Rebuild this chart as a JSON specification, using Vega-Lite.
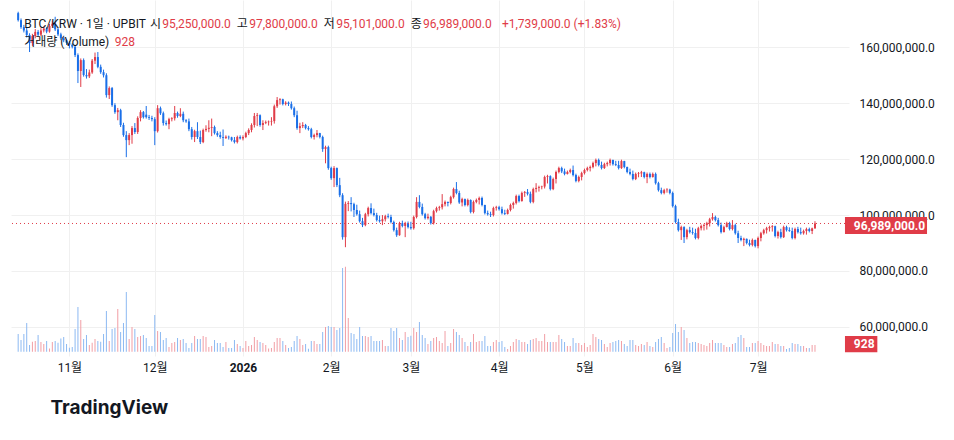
{
  "$schema": "https://vega.github.io/schema/vega-lite/v6.json",
  "description": "BTC/KRW daily candles on UPBIT with volume",
  "width": 838,
  "height": 356,
  "padding": {"left": 10, "top": 0, "right": 0, "bottom": 0},
  "background": "#ffffff",
  "config": {
    "font": "Roboto, 'Noto Sans CJK KR', sans-serif",
    "view": {"stroke": null}
  },
  "title": {
    "text": "TradingView",
    "orient": "bottom",
    "anchor": "start",
    "font": "Inter",
    "fontSize": 19,
    "fontWeight": "bold",
    "color": "#131722",
    "dx": 40,
    "offset": 26
  },
  "datasets": {
    "btc": [
      {"d":"2025-10-14","o":172.2,"h":172.7,"l":169.2,"c":169.7,"v":2480},
      {"d":"2025-10-15","o":169.7,"h":170.3,"l":166.6,"c":167.2,"v":1640},
      {"d":"2025-10-16","o":167.2,"h":168.0,"l":165.3,"c":166.0,"v":2480},
      {"d":"2025-10-17","o":166.0,"h":167.0,"l":163.5,"c":164.4,"v":4020},
      {"d":"2025-10-18","o":164.4,"h":165.0,"l":158.3,"c":161.5,"v":940},
      {"d":"2025-10-19","o":161.5,"h":164.8,"l":160.5,"c":164.0,"v":1400},
      {"d":"2025-10-20","o":164.0,"h":166.5,"l":163.2,"c":165.5,"v":1500},
      {"d":"2025-10-21","o":165.5,"h":166.2,"l":163.8,"c":164.5,"v":2340},
      {"d":"2025-10-22","o":164.5,"h":166.8,"l":164.0,"c":166.0,"v":1360},
      {"d":"2025-10-23","o":166.0,"h":167.5,"l":165.3,"c":166.7,"v":1080},
      {"d":"2025-10-24","o":166.7,"h":167.2,"l":165.0,"c":165.6,"v":1500},
      {"d":"2025-10-25","o":165.6,"h":168.3,"l":165.2,"c":167.6,"v":460},
      {"d":"2025-10-26","o":167.6,"h":169.5,"l":167.0,"c":168.4,"v":1360},
      {"d":"2025-10-27","o":168.4,"h":170.9,"l":165.8,"c":166.4,"v":1500},
      {"d":"2025-10-28","o":166.4,"h":167.0,"l":164.0,"c":164.6,"v":1260},
      {"d":"2025-10-29","o":164.6,"h":165.2,"l":162.5,"c":163.2,"v":1860},
      {"d":"2025-10-30","o":163.2,"h":163.8,"l":161.8,"c":162.5,"v":2060},
      {"d":"2025-10-31","o":162.5,"h":163.0,"l":160.8,"c":161.6,"v":1080},
      {"d":"2025-11-01","o":161.6,"h":162.2,"l":159.6,"c":160.9,"v":560},
      {"d":"2025-11-02","o":160.9,"h":161.4,"l":159.6,"c":160.2,"v":660},
      {"d":"2025-11-03","o":160.2,"h":160.8,"l":156.5,"c":157.2,"v":3180},
      {"d":"2025-11-04","o":157.2,"h":157.8,"l":147.2,"c":151.5,"v":6260},
      {"d":"2025-11-05","o":151.5,"h":156.0,"l":145.8,"c":155.4,"v":4440},
      {"d":"2025-11-06","o":155.4,"h":156.0,"l":149.5,"c":150.1,"v":1780},
      {"d":"2025-11-07","o":150.1,"h":152.2,"l":148.8,"c":149.6,"v":2340},
      {"d":"2025-11-08","o":149.6,"h":152.0,"l":149.0,"c":151.0,"v":940},
      {"d":"2025-11-09","o":151.0,"h":155.8,"l":150.5,"c":155.2,"v":1260},
      {"d":"2025-11-10","o":155.2,"h":158.1,"l":154.0,"c":156.5,"v":1780},
      {"d":"2025-11-11","o":156.5,"h":158.3,"l":152.5,"c":153.0,"v":1500},
      {"d":"2025-11-12","o":153.0,"h":153.8,"l":150.5,"c":151.1,"v":1400},
      {"d":"2025-11-13","o":151.1,"h":152.0,"l":149.2,"c":150.0,"v":2480},
      {"d":"2025-11-14","o":150.0,"h":150.7,"l":142.0,"c":142.9,"v":5700},
      {"d":"2025-11-15","o":142.9,"h":146.0,"l":141.5,"c":145.4,"v":1500},
      {"d":"2025-11-16","o":145.4,"h":145.8,"l":138.7,"c":139.3,"v":3180},
      {"d":"2025-11-17","o":139.3,"h":140.0,"l":136.2,"c":136.8,"v":3320},
      {"d":"2025-11-18","o":136.8,"h":138.3,"l":133.9,"c":137.5,"v":5980},
      {"d":"2025-11-19","o":137.5,"h":138.0,"l":131.5,"c":132.2,"v":2760},
      {"d":"2025-11-20","o":132.2,"h":133.0,"l":128.0,"c":128.6,"v":4020},
      {"d":"2025-11-21","o":128.6,"h":130.0,"l":120.7,"c":126.8,"v":8360},
      {"d":"2025-11-22","o":126.8,"h":129.3,"l":125.0,"c":128.6,"v":1780},
      {"d":"2025-11-23","o":128.6,"h":131.8,"l":125.5,"c":131.1,"v":3460},
      {"d":"2025-11-24","o":131.1,"h":132.9,"l":129.0,"c":129.7,"v":3180},
      {"d":"2025-11-25","o":129.7,"h":135.3,"l":129.0,"c":134.7,"v":2060},
      {"d":"2025-11-26","o":134.7,"h":137.5,"l":133.5,"c":136.8,"v":2200},
      {"d":"2025-11-27","o":136.8,"h":137.2,"l":134.5,"c":135.0,"v":2340},
      {"d":"2025-11-28","o":135.9,"h":139.0,"l":134.5,"c":135.0,"v":1920},
      {"d":"2025-11-29","o":135.0,"h":135.8,"l":134.0,"c":134.7,"v":800},
      {"d":"2025-11-30","o":134.7,"h":135.5,"l":133.5,"c":134.3,"v":800},
      {"d":"2025-12-01","o":134.3,"h":135.0,"l":125.0,"c":130.0,"v":5140},
      {"d":"2025-12-02","o":130.0,"h":139.3,"l":129.5,"c":138.2,"v":2900},
      {"d":"2025-12-03","o":138.2,"h":138.8,"l":135.8,"c":136.4,"v":2760},
      {"d":"2025-12-04","o":136.4,"h":137.0,"l":132.0,"c":132.9,"v":1640},
      {"d":"2025-12-05","o":132.9,"h":133.8,"l":132.0,"c":132.5,"v":1920},
      {"d":"2025-12-06","o":132.5,"h":134.8,"l":130.7,"c":134.3,"v":660},
      {"d":"2025-12-07","o":134.3,"h":135.0,"l":133.5,"c":134.6,"v":1220},
      {"d":"2025-12-08","o":134.6,"h":139.0,"l":133.8,"c":136.5,"v":1360},
      {"d":"2025-12-09","o":136.5,"h":137.0,"l":134.8,"c":135.4,"v":1920},
      {"d":"2025-12-10","o":135.4,"h":138.2,"l":135.0,"c":136.2,"v":1640},
      {"d":"2025-12-11","o":136.2,"h":137.0,"l":133.2,"c":133.9,"v":1780},
      {"d":"2025-12-12","o":133.9,"h":134.3,"l":133.0,"c":133.5,"v":1220},
      {"d":"2025-12-13","o":133.5,"h":134.5,"l":130.0,"c":130.7,"v":520},
      {"d":"2025-12-14","o":130.7,"h":131.5,"l":127.0,"c":127.9,"v":1220},
      {"d":"2025-12-15","o":127.9,"h":130.5,"l":126.1,"c":130.0,"v":2200},
      {"d":"2025-12-16","o":130.0,"h":133.2,"l":127.2,"c":127.9,"v":1780},
      {"d":"2025-12-17","o":127.9,"h":130.2,"l":125.4,"c":126.1,"v":1780},
      {"d":"2025-12-18","o":126.1,"h":130.9,"l":125.7,"c":130.4,"v":2200},
      {"d":"2025-12-19","o":130.4,"h":132.1,"l":129.8,"c":130.8,"v":2060},
      {"d":"2025-12-20","o":130.8,"h":133.9,"l":129.6,"c":131.2,"v":660},
      {"d":"2025-12-21","o":131.2,"h":134.5,"l":128.2,"c":131.5,"v":800},
      {"d":"2025-12-22","o":131.5,"h":132.0,"l":128.8,"c":129.3,"v":1640},
      {"d":"2025-12-23","o":129.3,"h":130.0,"l":128.0,"c":128.6,"v":1220},
      {"d":"2025-12-24","o":128.6,"h":129.8,"l":127.3,"c":127.9,"v":1220},
      {"d":"2025-12-25","o":127.9,"h":130.6,"l":124.7,"c":127.6,"v":660},
      {"d":"2025-12-26","o":127.6,"h":128.5,"l":127.2,"c":128.0,"v":1360},
      {"d":"2025-12-27","o":128.0,"h":128.4,"l":127.0,"c":127.8,"v":520},
      {"d":"2025-12-28","o":127.8,"h":128.0,"l":126.3,"c":126.8,"v":520},
      {"d":"2025-12-29","o":126.8,"h":127.9,"l":125.6,"c":126.1,"v":1640},
      {"d":"2025-12-30","o":126.1,"h":128.4,"l":125.6,"c":127.9,"v":1080},
      {"d":"2025-12-31","o":127.9,"h":128.5,"l":127.0,"c":127.4,"v":800},
      {"d":"2026-01-01","o":127.4,"h":128.5,"l":126.7,"c":127.9,"v":520},
      {"d":"2026-01-02","o":127.9,"h":129.8,"l":127.5,"c":129.3,"v":1500},
      {"d":"2026-01-03","o":129.3,"h":131.0,"l":128.6,"c":130.4,"v":800},
      {"d":"2026-01-04","o":130.4,"h":132.8,"l":129.6,"c":132.2,"v":940},
      {"d":"2026-01-05","o":132.2,"h":136.5,"l":131.3,"c":135.4,"v":2060},
      {"d":"2026-01-06","o":135.4,"h":136.5,"l":131.8,"c":135.7,"v":1640},
      {"d":"2026-01-07","o":135.7,"h":136.0,"l":131.6,"c":132.2,"v":1360},
      {"d":"2026-01-08","o":132.2,"h":133.9,"l":130.4,"c":132.9,"v":1220},
      {"d":"2026-01-09","o":132.9,"h":133.8,"l":132.5,"c":133.2,"v":940},
      {"d":"2026-01-10","o":133.2,"h":133.8,"l":132.0,"c":133.4,"v":460},
      {"d":"2026-01-11","o":133.4,"h":135.0,"l":132.0,"c":133.6,"v":520},
      {"d":"2026-01-12","o":133.6,"h":139.5,"l":132.7,"c":138.9,"v":1360},
      {"d":"2026-01-13","o":138.9,"h":142.2,"l":138.3,"c":141.1,"v":1920},
      {"d":"2026-01-14","o":141.1,"h":141.8,"l":139.5,"c":141.4,"v":1920},
      {"d":"2026-01-15","o":141.4,"h":141.6,"l":139.2,"c":139.7,"v":1500},
      {"d":"2026-01-16","o":139.7,"h":140.7,"l":139.2,"c":140.2,"v":940},
      {"d":"2026-01-17","o":140.2,"h":140.6,"l":139.0,"c":139.7,"v":520},
      {"d":"2026-01-18","o":139.7,"h":140.6,"l":137.7,"c":138.2,"v":660},
      {"d":"2026-01-19","o":138.2,"h":138.8,"l":135.0,"c":135.7,"v":1500},
      {"d":"2026-01-20","o":135.7,"h":137.3,"l":130.5,"c":131.1,"v":2200},
      {"d":"2026-01-21","o":131.1,"h":133.0,"l":129.3,"c":131.8,"v":1780},
      {"d":"2026-01-22","o":131.8,"h":133.2,"l":131.1,"c":132.2,"v":940},
      {"d":"2026-01-23","o":132.2,"h":132.6,"l":130.6,"c":131.1,"v":1080},
      {"d":"2026-01-24","o":131.1,"h":131.8,"l":130.2,"c":130.7,"v":400},
      {"d":"2026-01-25","o":130.7,"h":131.2,"l":127.4,"c":127.9,"v":1500},
      {"d":"2026-01-26","o":127.9,"h":129.1,"l":127.0,"c":128.6,"v":1500},
      {"d":"2026-01-27","o":128.6,"h":130.4,"l":127.8,"c":129.3,"v":1080},
      {"d":"2026-01-28","o":129.3,"h":129.4,"l":127.4,"c":127.9,"v":1080},
      {"d":"2026-01-29","o":127.9,"h":128.4,"l":122.6,"c":123.6,"v":2760},
      {"d":"2026-01-30","o":123.6,"h":124.8,"l":118.5,"c":124.3,"v":3460},
      {"d":"2026-01-31","o":124.3,"h":124.8,"l":116.2,"c":116.8,"v":3600},
      {"d":"2026-02-01","o":116.8,"h":117.3,"l":112.6,"c":113.2,"v":3460},
      {"d":"2026-02-02","o":113.2,"h":117.5,"l":110.0,"c":116.8,"v":3460},
      {"d":"2026-02-03","o":116.8,"h":117.0,"l":110.0,"c":110.7,"v":3040},
      {"d":"2026-02-04","o":110.7,"h":113.3,"l":106.4,"c":107.1,"v":3320},
      {"d":"2026-02-05","o":107.1,"h":107.8,"l":91.2,"c":92.1,"v":11720},
      {"d":"2026-02-06","o":92.1,"h":104.8,"l":88.5,"c":104.0,"v":11900},
      {"d":"2026-02-07","o":104.0,"h":105.0,"l":101.4,"c":104.3,"v":4720},
      {"d":"2026-02-08","o":104.3,"h":106.4,"l":101.3,"c":103.9,"v":2620},
      {"d":"2026-02-09","o":103.9,"h":104.4,"l":99.3,"c":101.8,"v":2480},
      {"d":"2026-02-10","o":101.8,"h":103.7,"l":99.8,"c":100.3,"v":1780},
      {"d":"2026-02-11","o":100.3,"h":101.6,"l":97.3,"c":97.8,"v":3460},
      {"d":"2026-02-12","o":97.8,"h":99.0,"l":95.7,"c":96.4,"v":2200},
      {"d":"2026-02-13","o":96.4,"h":100.8,"l":96.0,"c":100.3,"v":2200},
      {"d":"2026-02-14","o":100.3,"h":103.0,"l":99.5,"c":102.5,"v":2060},
      {"d":"2026-02-15","o":102.5,"h":104.2,"l":100.2,"c":100.7,"v":2200},
      {"d":"2026-02-16","o":100.7,"h":102.3,"l":99.5,"c":100.0,"v":1500},
      {"d":"2026-02-17","o":100.0,"h":100.8,"l":97.7,"c":98.2,"v":1500},
      {"d":"2026-02-18","o":98.2,"h":99.8,"l":97.3,"c":97.8,"v":1500},
      {"d":"2026-02-19","o":97.8,"h":100.0,"l":96.4,"c":98.5,"v":1640},
      {"d":"2026-02-20","o":98.5,"h":100.1,"l":97.7,"c":99.6,"v":800},
      {"d":"2026-02-21","o":99.6,"h":100.5,"l":98.8,"c":99.3,"v":800},
      {"d":"2026-02-22","o":99.3,"h":100.1,"l":97.0,"c":97.5,"v":3320},
      {"d":"2026-02-23","o":97.5,"h":98.0,"l":94.1,"c":94.6,"v":2900},
      {"d":"2026-02-24","o":94.6,"h":95.5,"l":92.2,"c":92.8,"v":3320},
      {"d":"2026-02-25","o":92.8,"h":97.6,"l":92.6,"c":97.1,"v":1920},
      {"d":"2026-02-26","o":97.1,"h":98.0,"l":95.6,"c":96.1,"v":1640},
      {"d":"2026-02-27","o":96.1,"h":97.6,"l":92.1,"c":97.1,"v":2760},
      {"d":"2026-02-28","o":97.1,"h":97.7,"l":95.2,"c":95.7,"v":2060},
      {"d":"2026-03-01","o":95.7,"h":97.6,"l":94.8,"c":95.3,"v":2240},
      {"d":"2026-03-02","o":95.3,"h":99.8,"l":94.8,"c":99.3,"v":3320},
      {"d":"2026-03-03","o":99.3,"h":106.4,"l":98.8,"c":104.7,"v":2760},
      {"d":"2026-03-04","o":104.7,"h":107.1,"l":102.4,"c":102.9,"v":4160},
      {"d":"2026-03-05","o":102.9,"h":104.1,"l":99.8,"c":100.3,"v":2340},
      {"d":"2026-03-06","o":100.3,"h":100.8,"l":98.4,"c":98.9,"v":1920},
      {"d":"2026-03-07","o":98.9,"h":100.5,"l":98.4,"c":99.4,"v":1080},
      {"d":"2026-03-08","o":99.4,"h":99.6,"l":96.6,"c":97.1,"v":1500},
      {"d":"2026-03-09","o":97.1,"h":101.9,"l":96.6,"c":101.4,"v":1920},
      {"d":"2026-03-10","o":101.4,"h":103.0,"l":100.9,"c":102.5,"v":2060},
      {"d":"2026-03-11","o":102.5,"h":103.3,"l":101.6,"c":102.8,"v":1500},
      {"d":"2026-03-12","o":102.8,"h":107.5,"l":102.0,"c":103.9,"v":1220},
      {"d":"2026-03-13","o":103.9,"h":105.2,"l":103.1,"c":104.7,"v":2900},
      {"d":"2026-03-14","o":104.7,"h":104.8,"l":103.1,"c":104.3,"v":800},
      {"d":"2026-03-15","o":104.3,"h":106.9,"l":103.8,"c":106.4,"v":1220},
      {"d":"2026-03-16","o":106.4,"h":109.8,"l":105.9,"c":109.3,"v":3180},
      {"d":"2026-03-17","o":109.3,"h":111.8,"l":107.4,"c":107.9,"v":2760},
      {"d":"2026-03-18","o":107.9,"h":108.7,"l":104.0,"c":104.5,"v":2340},
      {"d":"2026-03-19","o":104.5,"h":106.2,"l":103.1,"c":105.7,"v":1920},
      {"d":"2026-03-20","o":105.7,"h":105.9,"l":103.1,"c":103.6,"v":1360},
      {"d":"2026-03-21","o":103.6,"h":105.9,"l":103.1,"c":105.4,"v":800},
      {"d":"2026-03-22","o":105.4,"h":105.6,"l":100.6,"c":101.1,"v":1360},
      {"d":"2026-03-23","o":101.1,"h":105.2,"l":100.6,"c":104.7,"v":2480},
      {"d":"2026-03-24","o":104.7,"h":105.9,"l":104.2,"c":105.4,"v":1360},
      {"d":"2026-03-25","o":105.4,"h":106.6,"l":103.8,"c":106.1,"v":1500},
      {"d":"2026-03-26","o":106.1,"h":106.6,"l":103.1,"c":103.6,"v":1500},
      {"d":"2026-03-27","o":103.6,"h":103.7,"l":100.2,"c":100.7,"v":2200},
      {"d":"2026-03-28","o":100.7,"h":101.6,"l":99.8,"c":100.3,"v":800},
      {"d":"2026-03-29","o":100.3,"h":101.2,"l":99.3,"c":100.0,"v":800},
      {"d":"2026-03-30","o":100.0,"h":103.0,"l":99.5,"c":102.5,"v":1360},
      {"d":"2026-03-31","o":102.5,"h":103.3,"l":101.6,"c":102.8,"v":1640},
      {"d":"2026-04-01","o":102.8,"h":103.3,"l":101.6,"c":102.1,"v":1360},
      {"d":"2026-04-02","o":102.1,"h":103.0,"l":100.2,"c":100.7,"v":1500},
      {"d":"2026-04-03","o":100.7,"h":101.9,"l":100.0,"c":100.4,"v":660},
      {"d":"2026-04-04","o":100.4,"h":102.3,"l":100.2,"c":101.8,"v":380},
      {"d":"2026-04-05","o":101.8,"h":104.1,"l":101.3,"c":103.6,"v":800},
      {"d":"2026-04-06","o":103.6,"h":104.8,"l":102.3,"c":104.3,"v":1360},
      {"d":"2026-04-07","o":104.3,"h":107.3,"l":103.8,"c":106.8,"v":1780},
      {"d":"2026-04-08","o":106.8,"h":107.3,"l":104.5,"c":105.0,"v":1640},
      {"d":"2026-04-09","o":105.0,"h":108.4,"l":104.8,"c":107.9,"v":1360},
      {"d":"2026-04-10","o":107.9,"h":108.6,"l":106.5,"c":108.2,"v":1360},
      {"d":"2026-04-11","o":108.2,"h":109.3,"l":107.0,"c":107.6,"v":1080},
      {"d":"2026-04-12","o":107.6,"h":108.4,"l":104.2,"c":104.7,"v":1640},
      {"d":"2026-04-13","o":104.7,"h":109.8,"l":104.2,"c":109.3,"v":1780},
      {"d":"2026-04-14","o":109.3,"h":111.4,"l":108.1,"c":109.7,"v":1920},
      {"d":"2026-04-15","o":109.7,"h":110.5,"l":108.4,"c":110.0,"v":1500},
      {"d":"2026-04-16","o":110.0,"h":110.5,"l":109.2,"c":110.2,"v":1500},
      {"d":"2026-04-17","o":110.2,"h":114.1,"l":109.5,"c":113.6,"v":2480},
      {"d":"2026-04-18","o":113.6,"h":114.4,"l":111.3,"c":113.9,"v":1360},
      {"d":"2026-04-19","o":113.9,"h":114.2,"l":108.8,"c":109.3,"v":1360},
      {"d":"2026-04-20","o":109.3,"h":113.4,"l":108.9,"c":112.9,"v":1360},
      {"d":"2026-04-21","o":112.9,"h":115.9,"l":111.3,"c":115.4,"v":1360},
      {"d":"2026-04-22","o":115.4,"h":117.3,"l":114.9,"c":116.8,"v":2340},
      {"d":"2026-04-23","o":116.8,"h":117.3,"l":115.0,"c":115.6,"v":1780},
      {"d":"2026-04-24","o":115.6,"h":116.6,"l":114.2,"c":114.7,"v":1360},
      {"d":"2026-04-25","o":114.7,"h":115.9,"l":114.5,"c":115.4,"v":800},
      {"d":"2026-04-26","o":115.4,"h":116.6,"l":114.9,"c":116.1,"v":800},
      {"d":"2026-04-27","o":116.1,"h":117.7,"l":113.8,"c":114.3,"v":1920},
      {"d":"2026-04-28","o":114.3,"h":114.8,"l":111.7,"c":112.2,"v":1220},
      {"d":"2026-04-29","o":112.2,"h":114.1,"l":111.7,"c":113.6,"v":1220},
      {"d":"2026-04-30","o":113.6,"h":115.5,"l":112.4,"c":115.0,"v":940},
      {"d":"2026-05-01","o":115.0,"h":116.6,"l":114.5,"c":116.1,"v":1220},
      {"d":"2026-05-02","o":116.1,"h":117.3,"l":115.6,"c":116.8,"v":660},
      {"d":"2026-05-03","o":116.8,"h":117.7,"l":115.6,"c":117.2,"v":940},
      {"d":"2026-05-04","o":117.2,"h":119.1,"l":116.7,"c":118.6,"v":2480},
      {"d":"2026-05-05","o":118.6,"h":120.2,"l":117.4,"c":119.7,"v":2060},
      {"d":"2026-05-06","o":119.7,"h":120.2,"l":117.4,"c":117.9,"v":1780},
      {"d":"2026-05-07","o":117.9,"h":119.1,"l":116.3,"c":116.8,"v":1640},
      {"d":"2026-05-08","o":116.8,"h":118.7,"l":116.5,"c":118.2,"v":1080},
      {"d":"2026-05-09","o":118.2,"h":119.1,"l":117.4,"c":118.6,"v":660},
      {"d":"2026-05-10","o":118.6,"h":120.2,"l":117.7,"c":119.7,"v":1220},
      {"d":"2026-05-11","o":119.7,"h":119.8,"l":117.7,"c":118.2,"v":1360},
      {"d":"2026-05-12","o":118.2,"h":119.4,"l":117.5,"c":117.9,"v":1500},
      {"d":"2026-05-13","o":117.9,"h":119.4,"l":116.3,"c":116.8,"v":1640},
      {"d":"2026-05-14","o":116.8,"h":119.8,"l":116.5,"c":119.3,"v":1500},
      {"d":"2026-05-15","o":119.3,"h":119.4,"l":116.7,"c":117.2,"v":1080},
      {"d":"2026-05-16","o":117.2,"h":117.3,"l":114.9,"c":115.4,"v":800},
      {"d":"2026-05-17","o":115.4,"h":116.6,"l":114.2,"c":114.7,"v":1640},
      {"d":"2026-05-18","o":114.7,"h":115.9,"l":112.4,"c":112.9,"v":1640},
      {"d":"2026-05-19","o":112.9,"h":115.2,"l":112.5,"c":114.7,"v":940},
      {"d":"2026-05-20","o":114.7,"h":115.4,"l":113.5,"c":114.9,"v":800},
      {"d":"2026-05-21","o":114.9,"h":115.8,"l":113.6,"c":115.3,"v":1080},
      {"d":"2026-05-22","o":115.3,"h":115.5,"l":113.1,"c":113.6,"v":940},
      {"d":"2026-05-23","o":113.6,"h":115.2,"l":111.4,"c":114.7,"v":1360},
      {"d":"2026-05-24","o":114.7,"h":115.2,"l":113.1,"c":113.6,"v":800},
      {"d":"2026-05-25","o":113.6,"h":115.2,"l":113.4,"c":114.7,"v":660},
      {"d":"2026-05-26","o":114.7,"h":115.2,"l":110.9,"c":111.4,"v":1360},
      {"d":"2026-05-27","o":111.4,"h":111.9,"l":108.4,"c":108.9,"v":1780},
      {"d":"2026-05-28","o":108.9,"h":109.8,"l":107.4,"c":107.9,"v":2060},
      {"d":"2026-05-29","o":107.9,"h":109.4,"l":107.4,"c":108.9,"v":1220},
      {"d":"2026-05-30","o":108.9,"h":109.6,"l":108.0,"c":109.1,"v":520},
      {"d":"2026-05-31","o":109.1,"h":109.4,"l":107.4,"c":107.9,"v":660},
      {"d":"2026-06-01","o":107.9,"h":108.4,"l":102.7,"c":103.2,"v":2620},
      {"d":"2026-06-02","o":103.2,"h":103.7,"l":97.0,"c":97.5,"v":3880},
      {"d":"2026-06-03","o":97.5,"h":98.7,"l":94.1,"c":94.6,"v":2760},
      {"d":"2026-06-04","o":94.6,"h":96.2,"l":91.1,"c":95.7,"v":3460},
      {"d":"2026-06-05","o":95.7,"h":96.0,"l":90.0,"c":92.1,"v":3040},
      {"d":"2026-06-06","o":92.1,"h":95.1,"l":91.3,"c":94.6,"v":1920},
      {"d":"2026-06-07","o":94.6,"h":95.8,"l":93.4,"c":93.9,"v":1220},
      {"d":"2026-06-08","o":93.9,"h":95.5,"l":93.0,"c":93.6,"v":1360},
      {"d":"2026-06-09","o":93.6,"h":95.1,"l":91.3,"c":91.8,"v":1360},
      {"d":"2026-06-10","o":91.8,"h":95.8,"l":91.3,"c":95.3,"v":1220},
      {"d":"2026-06-11","o":95.3,"h":96.6,"l":94.5,"c":96.1,"v":1080},
      {"d":"2026-06-12","o":96.1,"h":96.9,"l":94.5,"c":96.4,"v":940},
      {"d":"2026-06-13","o":96.4,"h":97.6,"l":94.8,"c":97.1,"v":800},
      {"d":"2026-06-14","o":97.1,"h":99.0,"l":95.9,"c":98.5,"v":1220},
      {"d":"2026-06-15","o":98.5,"h":100.7,"l":98.0,"c":99.3,"v":1640},
      {"d":"2026-06-16","o":99.3,"h":99.8,"l":97.7,"c":98.2,"v":1220},
      {"d":"2026-06-17","o":98.2,"h":99.0,"l":95.9,"c":96.4,"v":1220},
      {"d":"2026-06-18","o":96.4,"h":97.3,"l":93.4,"c":93.9,"v":1220},
      {"d":"2026-06-19","o":93.9,"h":96.2,"l":93.8,"c":95.7,"v":940},
      {"d":"2026-06-20","o":95.7,"h":97.6,"l":95.6,"c":97.1,"v":660},
      {"d":"2026-06-21","o":97.1,"h":97.6,"l":94.5,"c":95.0,"v":660},
      {"d":"2026-06-22","o":95.0,"h":98.2,"l":94.5,"c":96.4,"v":1080},
      {"d":"2026-06-23","o":96.4,"h":96.9,"l":93.0,"c":93.5,"v":1220},
      {"d":"2026-06-24","o":93.5,"h":94.4,"l":90.0,"c":91.8,"v":2060},
      {"d":"2026-06-25","o":91.8,"h":92.6,"l":90.6,"c":91.1,"v":2340},
      {"d":"2026-06-26","o":91.1,"h":91.9,"l":88.9,"c":91.5,"v":1920},
      {"d":"2026-06-27","o":91.5,"h":91.6,"l":89.5,"c":90.0,"v":660},
      {"d":"2026-06-28","o":90.0,"h":91.2,"l":88.8,"c":89.3,"v":660},
      {"d":"2026-06-29","o":89.3,"h":91.6,"l":88.8,"c":91.1,"v":1220},
      {"d":"2026-06-30","o":91.1,"h":91.2,"l":88.4,"c":88.9,"v":1220},
      {"d":"2026-07-01","o":88.9,"h":92.3,"l":88.1,"c":91.8,"v":1500},
      {"d":"2026-07-02","o":91.8,"h":94.0,"l":90.6,"c":93.5,"v":1220},
      {"d":"2026-07-03","o":93.5,"h":95.1,"l":93.0,"c":94.6,"v":940},
      {"d":"2026-07-04","o":94.6,"h":95.8,"l":93.4,"c":95.3,"v":800},
      {"d":"2026-07-05","o":95.3,"h":96.2,"l":94.1,"c":95.7,"v":800},
      {"d":"2026-07-06","o":95.7,"h":96.4,"l":94.1,"c":96.0,"v":1360},
      {"d":"2026-07-07","o":96.0,"h":96.2,"l":92.0,"c":92.5,"v":1080},
      {"d":"2026-07-08","o":92.5,"h":94.4,"l":91.6,"c":93.9,"v":1080},
      {"d":"2026-07-09","o":93.9,"h":95.1,"l":91.6,"c":92.1,"v":800},
      {"d":"2026-07-10","o":92.1,"h":96.2,"l":91.8,"c":95.7,"v":800},
      {"d":"2026-07-11","o":95.7,"h":96.2,"l":94.1,"c":94.6,"v":380},
      {"d":"2026-07-12","o":94.6,"h":95.6,"l":94.0,"c":94.3,"v":520},
      {"d":"2026-07-13","o":94.3,"h":95.5,"l":91.3,"c":91.8,"v":1220},
      {"d":"2026-07-14","o":91.8,"h":95.5,"l":91.3,"c":95.0,"v":1080},
      {"d":"2026-07-15","o":95.0,"h":95.8,"l":93.4,"c":93.9,"v":1080},
      {"d":"2026-07-16","o":93.9,"h":95.5,"l":93.0,"c":93.5,"v":800},
      {"d":"2026-07-17","o":93.5,"h":94.8,"l":93.0,"c":94.3,"v":800},
      {"d":"2026-07-18","o":94.3,"h":95.5,"l":93.0,"c":95.0,"v":520},
      {"d":"2026-07-19","o":95.0,"h":95.5,"l":93.8,"c":94.3,"v":520},
      {"d":"2026-07-20","o":94.3,"h":95.5,"l":93.2,"c":95.25,"v":940},
      {"d":"2026-07-21","o":95.25,"h":97.8,"l":95.101,"c":96.989,"v":928}
    ]
  },
  "layer": [
    {
      "data": {"name": "btc"},
      "mark": {"type": "rule", "strokeWidth": 1},
      "encoding": {
        "x": {
          "field": "d",
          "type": "temporal",
          "scale": {"type": "utc", "domain": [
            {"year": 2025, "month": "Oct", "date": 13, "hours": 5, "minutes": 40, "utc": true},
            {"year": 2026, "month": "Jul", "date": 31, "hours": 4, "minutes": 48, "utc": true}
          ]},
          "axis": {
            "title": null,
            "values": [1761955200000, 1764547200000, 1767225600000, 1769904000000, 1772323200000, 1775001600000, 1777593600000, 1780272000000, 1782864000000],
            "labelExpr": "utcmonth(datum.value) == 0 ? utcFormat(datum.value, '%Y') : (utcmonth(datum.value) + 1) + '월'",
            "labelFontWeight": {"condition": {"test": "utcmonth(datum.value) == 0", "value": "bold"}, "value": "normal"},
            "labelFontSize": 12,
            "labelColor": "#131722",
            "labelPadding": 6,
            "labelFlush": false,
            "labelOverlap": false,
            "ticks": false,
            "domain": false,
            "grid": true,
            "gridColor": "#f0f0f0"
          }
        },
        "y": {
          "field": "l",
          "type": "quantitative",
          "scale": {"domain": [49.6, 176.9], "nice": false, "zero": false},
          "axis": {
            "title": null,
            "orient": "right",
            "values": [60, 80, 100, 120, 140, 160],
            "labelExpr": "format(datum.value * 1000000, ',.1f')",
            "labelFontSize": 12,
            "labelColor": "#131722",
            "labelPadding": 10,
            "ticks": false,
            "domain": false,
            "grid": true,
            "gridColor": "#f0f0f0"
          }
        },
        "y2": {"field": "h"},
        "color": {"condition": {"test": "datum.c >= datum.o", "value": "#e03c48"}, "value": "#1a6fe8"}
      }
    },
    {
      "data": {"name": "btc"},
      "mark": {"type": "bar", "size": 1},
      "encoding": {
        "x": {"field": "d", "type": "temporal"},
        "y": {"field": "v", "type": "quantitative", "stack": null, "scale": {"domain": [-602, 49238], "nice": false, "zero": false}, "axis": null},
        "color": {"condition": {"test": "datum.c >= datum.o", "value": "#f19ea5"}, "value": "#8cb9f2"}
      }
    },
    {
      "data": {"name": "btc"},
      "mark": {"type": "bar", "size": 2},
      "encoding": {
        "x": {"field": "d", "type": "temporal"},
        "y": {"field": "o", "type": "quantitative", "scale": {"domain": [49.6, 176.9], "nice": false, "zero": false}, "axis": null},
        "y2": {"field": "c"},
        "color": {"condition": {"test": "datum.c >= datum.o", "value": "#e03c48"}, "value": "#1a6fe8"}
      }
    },
    {
      "data": {"values": [{}]},
      "mark": {"type": "rect", "color": "#e03c48"},
      "encoding": {
        "x": {"datum": {"year": 2026, "month": "Jul", "date": 31, "hours": 13, "utc": true}, "type": "temporal"},
        "x2": {"datum": {"year": 2026, "month": "Aug", "date": 11, "hours": 22, "utc": true}},
        "y": {"datum": 2200, "scale": {"domain": [-602, 49238], "nice": false, "zero": false}, "axis": null},
        "y2": {"datum": -60}
      }
    },
    {
      "data": {"values": [{}]},
      "mark": {"type": "text", "text": "928", "color": "#ffffff", "align": "left", "baseline": "middle", "fontSize": 12, "fontWeight": "bold"},
      "encoding": {
        "x": {"datum": {"year": 2026, "month": "Aug", "date": 3, "hours": 16, "utc": true}, "type": "temporal"},
        "y": {"datum": 1070, "scale": {"domain": [-602, 49238], "nice": false, "zero": false}, "axis": null}
      }
    },
    {
      "data": {"values": [{}]},
      "mark": {"type": "rule", "color": "#e03c48", "strokeWidth": 1, "strokeDash": [1, 3]},
      "encoding": {"y": {"datum": 96.989, "scale": {"domain": [49.6, 176.9], "nice": false, "zero": false}, "axis": null}}
    },
    {
      "data": {"values": [{}]},
      "mark": {"type": "rect", "color": "#e03c48"},
      "encoding": {
        "x": {"datum": {"year": 2026, "month": "Jul", "date": 31, "hours": 13, "utc": true}, "type": "temporal"},
        "x2": {"datum": {"year": 2026, "month": "Aug", "date": 29, "hours": 9, "utc": true}},
        "y": {"datum": 99.3, "scale": {"domain": [49.6, 176.9], "nice": false, "zero": false}, "axis": null},
        "y2": {"datum": 93.2}
      }
    },
    {
      "data": {"values": [{}]},
      "mark": {"type": "text", "text": "96,989,000.0", "color": "#ffffff", "align": "left", "baseline": "middle", "fontSize": 12, "fontWeight": "bold"},
      "encoding": {
        "x": {"datum": {"year": 2026, "month": "Aug", "date": 3, "hours": 16, "utc": true}, "type": "temporal"},
        "y": {"datum": 96.25, "scale": {"domain": [49.6, 176.9], "nice": false, "zero": false}, "axis": null}
      }
    },
    {
      "data": {"values": [{}]},
      "mark": {"type": "text", "text": "BTC/KRW · 1일 · UPBIT", "color": "#131722", "align": "left", "baseline": "middle", "fontSize": 12},
      "encoding": {
        "x": {"datum": {"year": 2025, "month": "Oct", "date": 16, "hours": 3, "utc": true}, "type": "temporal"},
        "y": {"datum": 168.2, "scale": {"domain": [49.6, 176.9], "nice": false, "zero": false}, "axis": null}
      }
    },
    {
      "data": {"values": [{}]},
      "mark": {"type": "text", "text": "시", "color": "#131722", "align": "left", "baseline": "middle", "fontSize": 12},
      "encoding": {
        "x": {"datum": {"year": 2025, "month": "Nov", "date": 29, "hours": 7, "utc": true}, "type": "temporal"},
        "y": {"datum": 168.2, "scale": {"domain": [49.6, 176.9], "nice": false, "zero": false}, "axis": null}
      }
    },
    {
      "data": {"values": [{}]},
      "mark": {"type": "text", "text": "95,250,000.0", "color": "#e03c48", "align": "left", "baseline": "middle", "fontSize": 12},
      "encoding": {
        "x": {"datum": {"year": 2025, "month": "Dec", "date": 3, "hours": 15, "utc": true}, "type": "temporal"},
        "y": {"datum": 168.2, "scale": {"domain": [49.6, 176.9], "nice": false, "zero": false}, "axis": null}
      }
    },
    {
      "data": {"values": [{}]},
      "mark": {"type": "text", "text": "고", "color": "#131722", "align": "left", "baseline": "middle", "fontSize": 12},
      "encoding": {
        "x": {"datum": {"year": 2025, "month": "Dec", "date": 29, "hours": 20, "utc": true}, "type": "temporal"},
        "y": {"datum": 168.2, "scale": {"domain": [49.6, 176.9], "nice": false, "zero": false}, "axis": null}
      }
    },
    {
      "data": {"values": [{}]},
      "mark": {"type": "text", "text": "97,800,000.0", "color": "#e03c48", "align": "left", "baseline": "middle", "fontSize": 12},
      "encoding": {
        "x": {"datum": {"year": 2026, "month": "Jan", "date": 3, "hours": 4, "utc": true}, "type": "temporal"},
        "y": {"datum": 168.2, "scale": {"domain": [49.6, 176.9], "nice": false, "zero": false}, "axis": null}
      }
    },
    {
      "data": {"values": [{}]},
      "mark": {"type": "text", "text": "저", "color": "#131722", "align": "left", "baseline": "middle", "fontSize": 12},
      "encoding": {
        "x": {"datum": {"year": 2026, "month": "Jan", "date": 29, "hours": 10, "utc": true}, "type": "temporal"},
        "y": {"datum": 168.2, "scale": {"domain": [49.6, 176.9], "nice": false, "zero": false}, "axis": null}
      }
    },
    {
      "data": {"values": [{}]},
      "mark": {"type": "text", "text": "95,101,000.0", "color": "#e03c48", "align": "left", "baseline": "middle", "fontSize": 12},
      "encoding": {
        "x": {"datum": {"year": 2026, "month": "Feb", "date": 2, "hours": 18, "utc": true}, "type": "temporal"},
        "y": {"datum": 168.2, "scale": {"domain": [49.6, 176.9], "nice": false, "zero": false}, "axis": null}
      }
    },
    {
      "data": {"values": [{}]},
      "mark": {"type": "text", "text": "종", "color": "#131722", "align": "left", "baseline": "middle", "fontSize": 12},
      "encoding": {
        "x": {"datum": {"year": 2026, "month": "Feb", "date": 28, "hours": 23, "utc": true}, "type": "temporal"},
        "y": {"datum": 168.2, "scale": {"domain": [49.6, 176.9], "nice": false, "zero": false}, "axis": null}
      }
    },
    {
      "data": {"values": [{}]},
      "mark": {"type": "text", "text": "96,989,000.0", "color": "#e03c48", "align": "left", "baseline": "middle", "fontSize": 12},
      "encoding": {
        "x": {"datum": {"year": 2026, "month": "Mar", "date": 5, "hours": 7, "utc": true}, "type": "temporal"},
        "y": {"datum": 168.2, "scale": {"domain": [49.6, 176.9], "nice": false, "zero": false}, "axis": null}
      }
    },
    {
      "data": {"values": [{}]},
      "mark": {"type": "text", "text": "+1,739,000.0 (+1.83%)", "color": "#e03c48", "align": "left", "baseline": "middle", "fontSize": 12},
      "encoding": {
        "x": {"datum": {"year": 2026, "month": "Apr", "date": 2, "utc": true}, "type": "temporal"},
        "y": {"datum": 168.2, "scale": {"domain": [49.6, 176.9], "nice": false, "zero": false}, "axis": null}
      }
    },
    {
      "data": {"values": [{}]},
      "mark": {"type": "text", "text": "거래량 (Volume)", "color": "#131722", "align": "left", "baseline": "middle", "fontSize": 12},
      "encoding": {
        "x": {"datum": {"year": 2025, "month": "Oct", "date": 16, "hours": 3, "utc": true}, "type": "temporal"},
        "y": {"datum": 162.0, "scale": {"domain": [49.6, 176.9], "nice": false, "zero": false}, "axis": null}
      }
    },
    {
      "data": {"values": [{}]},
      "mark": {"type": "text", "text": "928", "color": "#e03c48", "align": "left", "baseline": "middle", "fontSize": 12},
      "encoding": {
        "x": {"datum": {"year": 2025, "month": "Nov", "date": 16, "hours": 23, "utc": true}, "type": "temporal"},
        "y": {"datum": 162.0, "scale": {"domain": [49.6, 176.9], "nice": false, "zero": false}, "axis": null}
      }
    }
  ],
  "resolve": {"scale": {"y": "independent"}}
}
